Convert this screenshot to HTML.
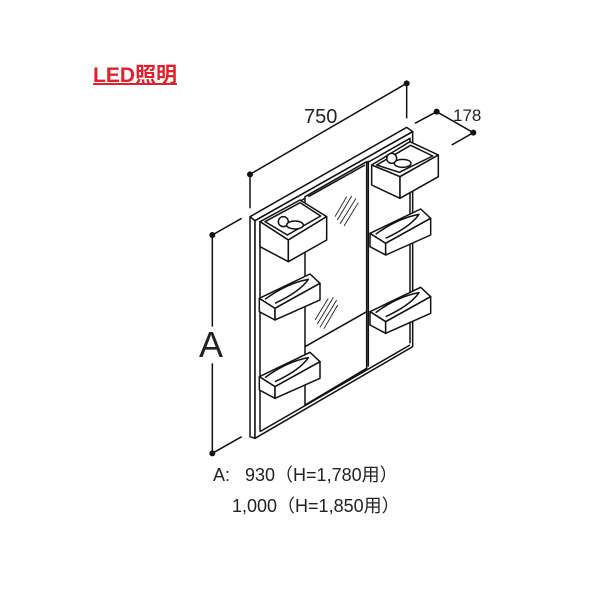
<!DOCTYPE html>
<html><head><meta charset="utf-8"><style>
html,body{margin:0;padding:0;background:#fff;}
body{width:600px;height:600px;position:relative;overflow:hidden;font-family:"Liberation Sans","Noto Sans CJK JP",sans-serif;}
.t{position:absolute;white-space:nowrap;color:#222;}
</style></head><body>
<div class="t" style="left:93px;top:59px;font-size:21px;font-weight:bold;color:#e0202a;text-decoration:underline;text-decoration-thickness:2px;letter-spacing:0px;">LED照明</div>
<svg width="600" height="600" style="position:absolute;left:0;top:0">
<g transform="translate(200,70) scale(0.33333)" fill="#fff" stroke="#111" stroke-width="4.5" stroke-linejoin="round">
 <g fill="none">
  <line x1="150" y1="313" x2="620" y2="40"/>
  <line x1="150" y1="313" x2="150" y2="415"/>
  <line x1="620" y1="40" x2="620" y2="145"/>
  <line x1="645" y1="160" x2="710" y2="125"/>
  <line x1="710" y1="125" x2="820" y2="188"/>
  <line x1="820" y1="188" x2="755" y2="225"/>
  <line x1="37" y1="495" x2="37" y2="770"/>
  <line x1="37" y1="880" x2="37" y2="1150"/>
  <line x1="37" y1="495" x2="125" y2="445"/>
  <line x1="37" y1="1150" x2="125" y2="1100"/>
 </g>
 <g fill="#111" stroke="none">
  <circle cx="150" cy="313" r="9"/><circle cx="620" cy="40" r="9"/>
  <circle cx="710" cy="125" r="9"/><circle cx="820" cy="188" r="9"/>
  <circle cx="37" cy="495" r="9"/><circle cx="37" cy="1150" r="9"/>
 </g>
 <polygon points="150,440 620,172 638,185 165,452"/>
 <polygon points="150,440 165,452 165,1105 150,1100"/>
 <polygon points="165,452 638,185 638,830 165,1105"/>
 <polyline fill="none" points="180,1085 180,462 630,205 630,820"/>
 <polyline fill="none" points="180,1085 630,825"/>
 <polygon points="315,380 500,275 500,895 315,1005"/>
 <polyline fill="none" points="325,380 495,285"/>
 <line x1="505" y1="272" x2="505" y2="890"/>
 <line x1="315" y1="830" x2="500" y2="725"/>
 <g stroke-width="2.5" fill="none">
  <line x1="405" y1="440" x2="440" y2="380"/><line x1="412" y1="450" x2="455" y2="378"/><line x1="420" y1="462" x2="468" y2="385"/><line x1="432" y1="468" x2="475" y2="398"/>
  <line x1="345" y1="750" x2="385" y2="685"/><line x1="352" y1="762" x2="400" y2="682"/><line x1="360" y1="772" x2="410" y2="690"/><line x1="372" y1="776" x2="413" y2="705"/>
 </g>
 <polygon points="180,455 300,390 380,440 265,510"/>
 <polygon points="180,455 265,510 265,575 180,530"/>
 <polygon points="265,510 380,440 380,510 265,575"/>
 <polygon points="195,455 300,398 362,438 262,495"/>
 <circle cx="250" cy="455" r="15"/><ellipse cx="285" cy="465" rx="25" ry="12"/>
 <polygon points="515,285 630,215 715,255 600,320"/>
 <polygon points="515,285 600,320 600,385 515,345"/>
 <polygon points="600,320 715,255 715,320 600,385"/>
 <polygon points="530,285 632,226 698,258 598,307"/>
 <circle cx="575" cy="265" r="15"/><ellipse cx="608" cy="280" rx="25" ry="12"/>
 <g id="tr">
  <polygon points="178,685 330,612 360,640 225,715"/>
  <polygon points="178,685 225,715 225,750 178,725"/>
  <polygon points="225,715 360,640 360,690 225,750"/>
  <path fill="none" d="M195,688 Q260,640 325,628 Q300,665 225,700"/>
 </g>
 <use href="#tr" transform="translate(0,235)"/>
 <use href="#tr" transform="translate(332,-195)"/>
 <use href="#tr" transform="translate(332,40)"/>
</g>
<text x="304" y="123" font-size="20" font-family="Liberation Sans, sans-serif" fill="#222">750</text>
<text x="453" y="121" font-size="17" font-family="Liberation Sans, sans-serif" fill="#222">178</text>
<text x="199" y="357" font-size="36" font-family="Liberation Sans, sans-serif" fill="#222">A</text>
</svg>
<div class="t" style="left:213px;top:461px;font-size:18px;">A:&nbsp;&nbsp; 930（H=1,780用）</div>
<div class="t" style="left:232px;top:492px;font-size:18px;">1,000（H=1,850用）</div>
</body></html>
